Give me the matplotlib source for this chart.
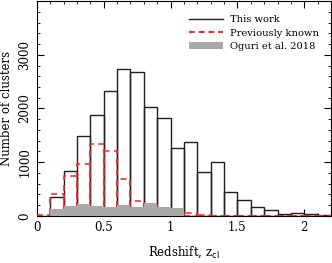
import numpy as np
import matplotlib.pyplot as plt
from matplotlib.ticker import MultipleLocator
from matplotlib.lines import Line2D
from matplotlib.patches import Patch

plt.rcParams["font.family"] = "DejaVu Serif"

edges = np.round(np.arange(0, 2.21, 0.1), 2)
this_work = [0, 360, 845, 1490, 1880, 2330, 2730, 2680, 2030, 1830,
             1260, 1375, 815, 1010, 445, 290, 170, 110, 40, 55, 40, 12]
prev_known = [20, 405, 745, 965, 1340, 1215, 690, 280, 210, 150,
              90, 60, 10, 0, 0, 0, 0, 0, 0, 0, 0, 0]
oguri = [0, 130, 190, 225, 190, 160, 195, 170, 240, 170,
         150, 0, 0, 0, 0, 0, 0, 0, 0, 0, 0, 0]

fig = plt.figure(figsize=(3.32, 2.63), dpi=100)
ax = fig.add_axes([0.111, 0.179, 0.886, 0.817])

left = edges[:-1]
ax.bar(left, this_work, width=0.1, align="edge", facecolor="none",
       edgecolor="#202020", linewidth=1.0, zorder=2)
ax.bar(left, prev_known, width=0.1, align="edge", facecolor="none",
       edgecolor="#ff2020", linewidth=1.1, linestyle=(0, (4, 3)), zorder=3)
ax.bar(left, oguri, width=0.1, align="edge", facecolor="#a9a9a9",
       edgecolor="none", zorder=4)

ax.set_xlim(0, 2.2)
ax.set_ylim(0, 4000)
ax.xaxis.set_minor_locator(MultipleLocator(0.1))
ax.yaxis.set_minor_locator(MultipleLocator(200))
ax.set_xticks([0, 0.5, 1, 1.5, 2])
ax.set_xticklabels(["0", "0.5", "1", "1.5", "2"])
ax.set_yticks([0, 1000, 2000, 3000])
ax.tick_params(which="both", direction="in", top=True, right=True,
               labelsize=8.5)
ax.tick_params(which="major", length=5, pad=4)
ax.tick_params(which="minor", length=2.5)
for lab in ax.get_yticklabels():
    lab.set_rotation(90)
    lab.set_va("center")

ax.set_xlabel(r"Redshift, z$_{\rm cl}$", fontsize=8.5, labelpad=7)
ax.set_ylabel("Number of clusters", fontsize=8.5, labelpad=4)

handles = [Line2D([], [], color="#202020", lw=1.0),
           Line2D([], [], color="#ff2020", lw=1.4, ls=(0, (3, 2))),
           Patch(facecolor="#a9a9a9", edgecolor="none")]
ax.legend(handles, ["This work", "Previously known", "Oguri et al. 2018"],
          loc="upper right", bbox_to_anchor=(0.972, 0.953), frameon=False,
          fontsize=7.1, handlelength=3.4, handleheight=0.6,
          handletextpad=0.7, borderaxespad=0, labelspacing=0.45)

fig.savefig("out.png", dpi=100)
